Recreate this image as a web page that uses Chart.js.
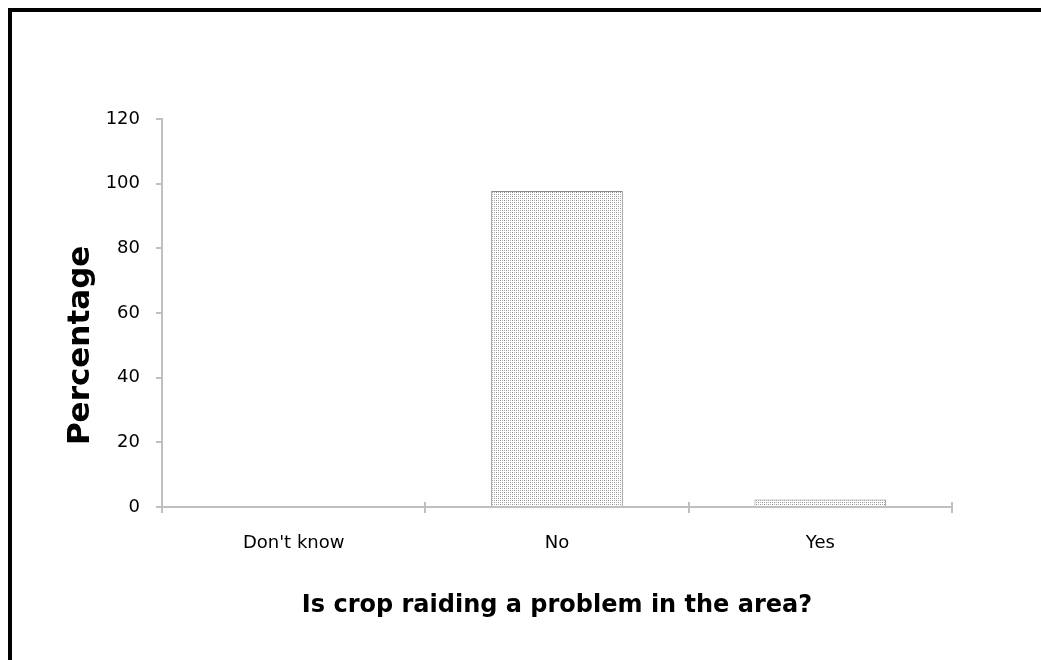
<!DOCTYPE html>
<html>
<head>
<meta charset="utf-8">
<script src="https://cdn.jsdelivr.net/npm/chart.js@4.4.1/dist/chart.umd.min.js"></script>
<style>
  html, body { margin: 0; padding: 0; background: #fff; }
  #wrap { position: relative; width: 1041px; height: 660px; }
  #frame { position: absolute; left: 8px; top: 8px; right: -10px; bottom: -10px;
           border-top: 4px solid #000; border-left: 4px solid #000; }
  canvas { position: absolute; left: 0; top: 0; }
</style>
</head>
<body>
<div id="wrap">
  <div id="frame"></div>
  <canvas id="myChart1" width="1041" height="660"></canvas>
</div>
<script>
// crop raiding survey bar
var labels1 = ["Don't know", 'No', 'Yes'];
var data1 = [0, 97.7, 2.3];
var yTicks1 = [0, 20, 40, 60, 80, 100, 120];

// dotted fill like the old excel pattern
function dotPattern() {
    var c = document.createElement('canvas');
    c.width = 4; c.height = 4;
    var g = c.getContext('2d');
    g.fillStyle = '#fff';
    g.fillRect(0, 0, 4, 4);
    g.fillStyle = '#8f8f8f';
    g.fillRect(0, 0, 1, 1);
    g.fillRect(2, 2, 1, 1);
    g.fillStyle = '#b8b8b8';
    g.fillRect(2, 0, 1, 1);
    g.fillRect(0, 2, 1, 1);
    return document.getElementById('myChart1').getContext('2d').createPattern(c, 'repeat');
}

var axisColor = '#c0c0c0';

// little tick marks poking above the x axis, at category edges
var crossTicks = {
    id: 'crossTicks',
    afterDraw: function (chart) {
        var x = chart.scales.x, y0 = chart.chartArea.bottom;
        var g = chart.ctx;
        var half = (x.getPixelForValue(1) - x.getPixelForValue(0)) / 2;
        g.save();
        g.strokeStyle = axisColor;
        g.lineWidth = 2;
        for (var i = 0; i <= labels1.length; i++) {
            var px = Math.round(x.getPixelForValue(0) - half + i * half * 2);
            g.beginPath();
            g.moveTo(px, y0 - 5);
            g.lineTo(px, y0);
            g.stroke();
        }
        g.restore();
    }
};

var ctx1 = document.getElementById('myChart1').getContext('2d');
var myChart1 = new Chart(ctx1, {
    type: 'bar',
    data: {
        labels: labels1,
        datasets: [{
            data: data1,
            backgroundColor: dotPattern(),
            borderColor: '#8a8a8a',
            borderWidth: 1,
            categoryPercentage: 1,
            barPercentage: 0.5
        }]
    },
    plugins: [crossTicks],
    options: {
        responsive: false,
        animation: false,
        layout: { padding: { top: 119, right: 89, left: 0, bottom: 0 } },
        plugins: { legend: { display: false }, tooltip: { enabled: false } },
        scales: {
            x: {
                afterFit: function (s) { s.height = 153; },
                grid: { drawOnChartArea: false, color: axisColor, lineWidth: 2, tickLength: 6 },
                border: { color: axisColor, width: 2 },
                ticks: { color: '#000', padding: 20, font: { family: 'DejaVu Sans', size: 18 } },
                title: {
                    display: true,
                    text: 'Is crop raiding a problem in the area?',
                    color: '#000',
                    font: { family: 'DejaVu Sans', size: 24, weight: 'bold' },
                    padding: { top: 0, bottom: 40 }
                }
            },
            y: {
                min: 0,
                max: 120,
                afterFit: function (s) { s.width = 162; },
                afterBuildTicks: function (s) { s.ticks = yTicks1.map(function (v) { return { value: v }; }); },
                grid: { drawOnChartArea: false, color: axisColor, lineWidth: 2, tickLength: 6 },
                border: { color: axisColor, width: 2 },
                ticks: { color: '#000', padding: 16, font: { family: 'DejaVu Sans', size: 18 } },
                title: {
                    display: true,
                    text: 'Percentage      ',
                    color: '#000',
                    font: { family: 'DejaVu Sans', size: 31, weight: 'bold' },
                    padding: { top: 62, bottom: 0 }
                }
            }
        }
    }
});
</script>
</body>
</html>
